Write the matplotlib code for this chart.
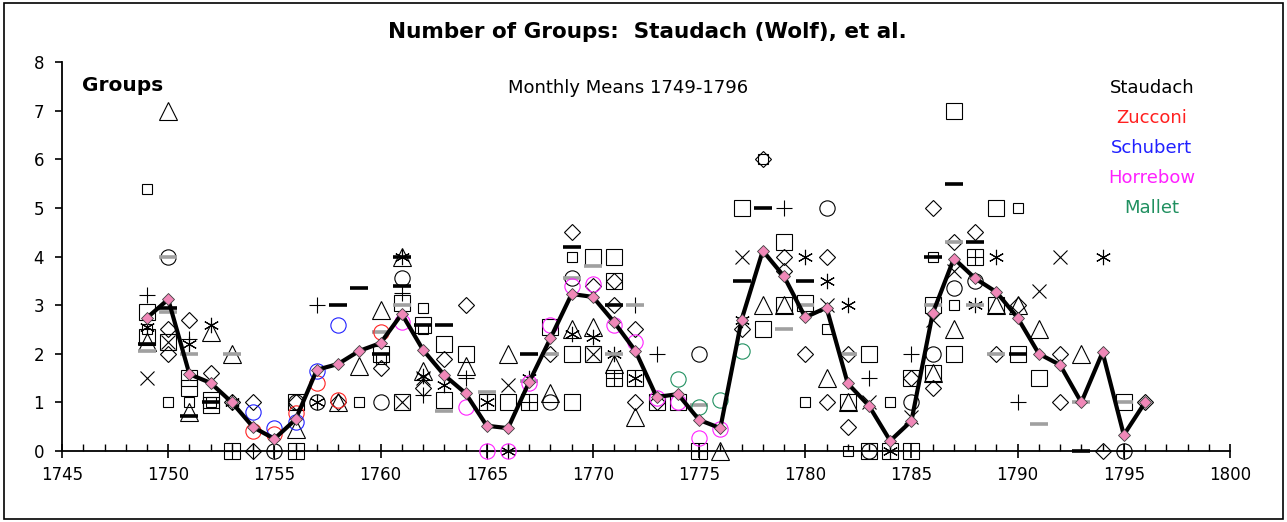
import matplotlib
matplotlib.use("Agg")
import matplotlib.pyplot as plt
import matplotlib.patches as patches

plt.rcParams['font.family'] = ['DejaVu Sans']

# yearly means (black line with pink diamonds)
years = list(range(1749, 1797))
means = [2.74, 3.12, 1.58, 1.40, 1.00, 0.49, 0.25, 0.65, 1.67, 1.79,
         2.06, 2.22, 2.82, 2.08, 1.56, 1.19, 0.52, 0.47, 1.42, 2.32,
         3.23, 3.17, 2.65, 2.06, 1.11, 1.17, 0.64, 0.47, 2.70, 4.12,
         3.59, 2.75, 2.95, 1.39, 0.93, 0.21, 0.62, 2.83, 3.96, 3.55,
         3.27, 2.74, 2.00, 1.77, 1.00, 2.03, 0.33, 1.00]

# Staudach monthly means, one list per marker shape: (year, groups)
big_square = [(1749, 2.85), (1749, 2.35), (1750, 2.25), (1751, 1.5), (1751, 1.3),
              (1752, 1.05), (1752, 0.95), (1753, 0), (1756, 1.0), (1756, 0),
              (1760, 2.0), (1761, 3.05), (1761, 1.0), (1762, 2.6), (1763, 2.2),
              (1763, 1.05), (1764, 2.0), (1765, 1.0), (1766, 1.0), (1767, 1.0),
              (1768, 2.55), (1769, 2.0), (1769, 1.0), (1770, 4.0), (1770, 2.0),
              (1771, 4.0), (1771, 3.5), (1771, 1.5), (1772, 1.5), (1773, 1.0),
              (1774, 1.0), (1775, 0), (1777, 5.0), (1778, 2.5), (1779, 4.3),
              (1779, 3.0), (1780, 3.05), (1782, 1.0), (1783, 2.0), (1783, 0),
              (1784, 0), (1785, 1.5), (1785, 0), (1786, 3.0), (1786, 1.6),
              (1787, 7.0), (1787, 2.0), (1788, 4.0), (1789, 5.0), (1789, 3.0),
              (1790, 2.0), (1791, 1.5), (1795, 1.0)]
small_square = [(1749, 5.4), (1749, 2.5), (1750, 1.0), (1751, 1.0), (1752, 1.0),
                (1759, 1.0), (1760, 1.9), (1762, 2.95), (1762, 2.5), (1769, 4.0),
                (1778, 6.0), (1780, 1.0), (1781, 2.5), (1782, 0), (1784, 1.0),
                (1786, 4.0), (1787, 3.0), (1790, 5.0)]
circle = [(1750, 4.0), (1755, 0), (1756, 1.0), (1757, 1.0), (1760, 1.0),
          (1761, 3.55), (1768, 1.0), (1769, 3.55), (1775, 2.0), (1781, 5.0),
          (1783, 0), (1785, 1.0), (1786, 2.0), (1787, 3.35), (1788, 3.5), (1795, 0)]
triangle = [(1749, 2.25), (1750, 7.0), (1751, 0.8), (1752, 2.45), (1753, 2.0),
            (1756, 0.45), (1758, 1.0), (1759, 1.75), (1760, 2.9), (1761, 4.0),
            (1762, 1.65), (1764, 1.75), (1766, 2.0), (1768, 1.2), (1769, 2.5),
            (1770, 2.55), (1771, 1.8), (1772, 0.7), (1776, 0), (1778, 3.0),
            (1779, 3.0), (1781, 1.5), (1782, 1.0), (1786, 1.6), (1787, 2.5),
            (1789, 3.0), (1790, 3.0), (1791, 2.5), (1793, 2.0)]
diamond = [(1750, 2.5), (1750, 2.0), (1751, 2.7), (1752, 1.6), (1753, 1.0),
           (1754, 1.0), (1754, 0), (1756, 1.0), (1758, 1.0), (1760, 1.7),
           (1762, 1.3), (1763, 1.9), (1764, 3.0), (1768, 2.0), (1769, 4.5),
           (1770, 3.4), (1771, 3.5), (1771, 3.0), (1772, 2.5), (1772, 1.0),
           (1773, 1.0), (1777, 2.5), (1778, 6.0), (1779, 4.0), (1779, 3.7),
           (1780, 2.0), (1781, 4.0), (1781, 1.0), (1782, 2.0), (1782, 0.5),
           (1785, 1.5), (1786, 5.0), (1786, 1.3), (1787, 4.3), (1788, 4.5),
           (1789, 2.0), (1790, 3.0), (1792, 2.0), (1792, 1.0), (1794, 0), (1796, 1.0)]
plus = [(1749, 3.2), (1751, 2.3), (1753, 0), (1754, 0), (1755, 0), (1756, 0),
        (1757, 3.0), (1761, 3.25), (1762, 1.15), (1764, 1.5), (1765, 0),
        (1767, 1.0), (1771, 1.5), (1772, 3.0), (1773, 2.0), (1775, 0),
        (1779, 5.0), (1783, 1.5), (1785, 2.0), (1788, 4.0), (1790, 1.0), (1795, 0)]
cross = [(1749, 1.5), (1750, 2.25), (1761, 1.0), (1762, 1.5), (1766, 1.35),
         (1770, 2.0), (1777, 4.0), (1781, 3.0), (1783, 1.0), (1785, 0.7),
         (1786, 2.7), (1787, 3.7), (1791, 3.3), (1792, 4.0)]
asterisk = [(1749, 2.55), (1751, 2.2), (1752, 2.6), (1753, 1.0), (1757, 1.0),
            (1761, 4.0), (1762, 1.55), (1763, 1.35), (1765, 1.0), (1766, 0),
            (1767, 1.5), (1769, 2.4), (1770, 2.35), (1771, 2.0), (1772, 1.5),
            (1777, 2.7), (1780, 4.0), (1781, 3.5), (1782, 3.0), (1784, 0),
            (1788, 3.0), (1789, 4.0), (1794, 4.0)]
black_dash = [(1749, 2.2), (1750, 2.95), (1751, 0.72), (1752, 1.0), (1758, 3.0),
              (1759, 3.35), (1760, 2.0), (1761, 4.0), (1761, 3.4), (1762, 2.6),
              (1763, 2.6), (1767, 2.0), (1769, 4.2), (1771, 3.0), (1777, 3.5),
              (1778, 5.0), (1780, 3.5), (1786, 4.0), (1787, 5.5), (1788, 4.3),
              (1790, 2.0), (1793, 0)]
gray_dash = [(1749, 2.05), (1750, 4.0), (1750, 2.85), (1751, 2.0), (1753, 2.0),
             (1760, 2.45), (1761, 3.0), (1763, 0.82), (1765, 1.22), (1767, 1.45),
             (1768, 2.0), (1769, 3.55), (1770, 3.8), (1771, 2.0), (1772, 3.0),
             (1775, 0.95), (1779, 2.5), (1780, 3.0), (1782, 2.0), (1786, 3.0),
             (1787, 4.3), (1788, 3.0), (1789, 2.0), (1791, 0.55), (1793, 1.0), (1795, 1.0)]

# other observers (circles)
zucconi = [(1754, 0.42), (1755, 0.35), (1756, 0.78), (1757, 1.4), (1758, 1.05), (1760, 2.45)]
schubert = [(1754, 0.8), (1755, 0.47), (1756, 0.6), (1757, 1.65), (1758, 2.6)]
horrebow = [(1761, 2.65), (1764, 0.9), (1765, 0), (1766, 0), (1767, 1.4), (1768, 2.6),
            (1769, 3.4), (1770, 3.43), (1771, 2.6), (1772, 2.24), (1773, 1.1),
            (1774, 1.0), (1775, 0.27), (1776, 0.45)]
mallet = [(1774, 1.48), (1775, 0.9), (1776, 1.05), (1777, 2.06)]

legend_names = ['Staudach', 'Zucconi', 'Schubert', 'Horrebow', 'Mallet']
legend_colors = ['black', '#ff2020', '#2020ff', '#ff20ff', '#209060']

fig = plt.figure(figsize=(12.87, 5.22), dpi=100)
ax = fig.add_axes([0.0482, 0.136, 0.9075, 0.745])


def scatter(data, marker, size, color='black', mew=0.8, z=2):
    xs = [d[0] for d in data]
    ys = [d[1] for d in data]
    ax.plot(xs, ys, linestyle='none', marker=marker, markersize=size,
            markerfacecolor='none', markeredgecolor=color, markeredgewidth=mew,
            zorder=z, clip_on=False)


scatter(big_square, 's', 11)
scatter(small_square, 's', 7)
scatter(circle, 'o', 11)
scatter(triangle, '^', 12.5)
scatter(diamond, 'D', 8)
scatter(plus, '+', 11.5)
scatter(cross, 'x', 10.5)
scatter(asterisk, (6, 2, 0), 11)
scatter(black_dash, '_', 12.5, mew=2.6)
scatter(gray_dash, '_', 12.5, color='#a0a0a0', mew=2.6)

scatter(zucconi, 'o', 11, color=legend_colors[1], z=3)
scatter(schubert, 'o', 11, color=legend_colors[2], z=3)
scatter(horrebow, 'o', 11, color=legend_colors[3], z=3)
scatter(mallet, 'o', 11, color=legend_colors[4], z=3)

ax.plot(years, means, color='black', linewidth=3, zorder=4,
        marker='D', markersize=6.3, markerfacecolor='#f088b8',
        markeredgecolor='#404040', markeredgewidth=0.6, clip_on=False)

ax.set_xlim(1745, 1800)
ax.set_ylim(0, 8)
ax.set_xticks(range(1745, 1801, 5))
ax.set_xticks(range(1745, 1801), minor=True)
ax.set_yticks(range(0, 9))
for s in ['top', 'right']:
    ax.spines[s].set_visible(False)
for s in ['left', 'bottom']:
    ax.spines[s].set_linewidth(1.3)
ax.tick_params(axis='x', which='major', direction='inout', length=10, width=1.2,
               labelsize=12, pad=6)
ax.tick_params(axis='x', which='minor', direction='in', length=5, width=1.0)
ax.tick_params(axis='y', which='major', direction='out', length=5, width=1.2,
               labelsize=12, pad=8)

fig.text(0.503, 0.938, 'Number of Groups:  Staudach (Wolf), et al.', ha='center',
         va='center', fontsize=15.5, fontweight='bold')
fig.text(0.064, 0.837, 'Groups', ha='left', va='center', fontsize=14.5,
         fontweight='bold')
fig.text(0.488, 0.832, 'Monthly Means 1749-1796', ha='center', va='center',
         fontsize=13)
for i, (name, col) in enumerate(zip(legend_names, legend_colors)):
    fig.text(0.895, 0.832 - i * 0.0575, name, ha='center', va='center',
             fontsize=13, color=col)

fig.patches.append(patches.Rectangle((0.003, 0.006), 0.994, 0.988, transform=fig.transFigure,
                                     fill=False, edgecolor='black', linewidth=1.2))

fig.savefig('out.png', dpi=100)
